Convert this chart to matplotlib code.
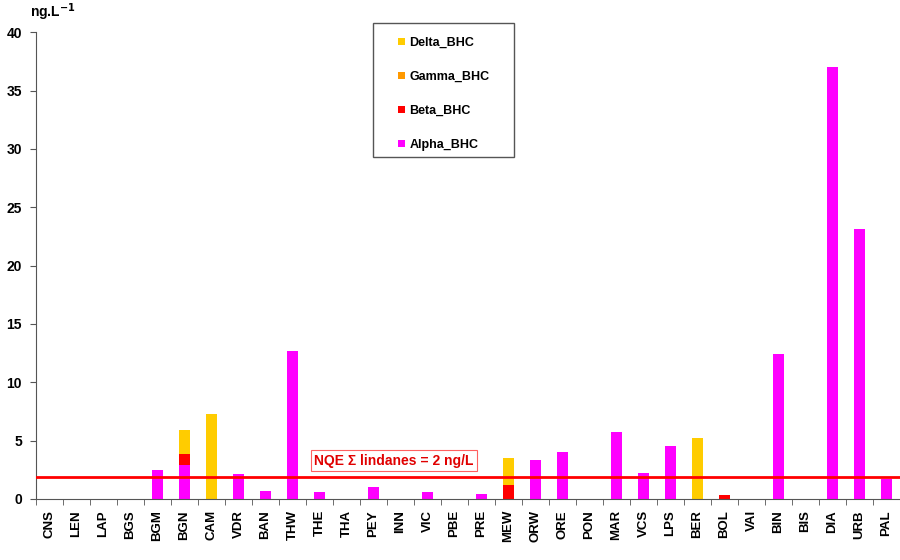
import numpy as np
import matplotlib
matplotlib.use("Agg")
import matplotlib.pyplot as plt
from matplotlib.patches import Rectangle

plt.rcParams['font.family'] = ['Liberation Sans', 'DejaVu Sans']

sites = ["CNS", "LEN", "LAP", "BGS", "BGM", "BGN", "CAM", "VDR", "BAN", "THW",
         "THE", "THA", "PEY", "INN", "VIC", "PBE", "PRE", "MEW", "ORW", "ORE",
         "PON", "MAR", "VCS", "LPS", "BER", "BOL", "VAI", "BIN", "BIS", "DIA",
         "URB", "PAL"]

alpha_bhc = [0, 0, 0, 0, 2.5, 2.9, 0, 2.1, 0.7, 12.7,
             0.6, 0, 1.0, 0, 0.6, 0, 0.4, 0, 3.3, 4.0,
             0, 5.7, 2.2, 4.5, 0, 0, 0, 12.4, 0, 37.0,
             23.1, 1.7]
beta_bhc = [0, 0, 0, 0, 0, 0.95, 0, 0, 0, 0,
            0, 0, 0, 0, 0, 0, 0, 1.2, 0, 0,
            0, 0, 0, 0, 0, 0.35, 0, 0, 0, 0,
            0, 0]
gamma_bhc = [0] * 32
delta_bhc = [0, 0, 0, 0, 0, 2.05, 7.3, 0, 0, 0,
             0, 0, 0, 0, 0, 0, 0, 2.3, 0, 0,
             0, 0, 0, 0, 5.2, 0, 0, 0, 0, 0,
             0, 0]

nqe_level = 1.9

colors = {"Alpha_BHC": "#FF00FF", "Beta_BHC": "#FF0000",
          "Gamma_BHC": "#FF9900", "Delta_BHC": "#FFCC00"}

fig = plt.figure(figsize=(9, 5.6), dpi=100)
ax = fig.add_axes([0.04, 0.109, 0.96, 0.8333])

x = np.arange(len(sites))
w = 0.4
a = np.array(alpha_bhc)
b = np.array(beta_bhc)
g = np.array(gamma_bhc)
d = np.array(delta_bhc)
h_a = ax.bar(x, a, w, color=colors["Alpha_BHC"], label="Alpha_BHC")
h_b = ax.bar(x, b, w, bottom=a, color=colors["Beta_BHC"], label="Beta_BHC")
h_g = ax.bar(x, g, w, bottom=a + b, color=colors["Gamma_BHC"], label="Gamma_BHC")
h_d = ax.bar(x, d, w, bottom=a + b + g, color=colors["Delta_BHC"], label="Delta_BHC")

ax.axhline(nqe_level, color="#FF0000", lw=2, zorder=3)
ax.text(12.76, 3.26, "NQE \u03a3 lindanes = 2 ng/L", color="#E00000",
        fontsize=10, fontweight="bold", ha="center", va="center",
        bbox=dict(boxstyle="square,pad=0.25", fc="white", ec="#FF6060", lw=0.8))

ax.set_xlim(-0.5, len(sites) - 0.5)
ax.set_ylim(0, 40)
ax.set_yticks(range(0, 41, 5))
ax.set_yticklabels([str(v) for v in range(0, 41, 5)], fontsize=10, fontweight="bold")
ax.set_xticks(x)
ax.set_xticklabels(sites, rotation=90, fontsize=9.5, fontweight="bold")
ax.set_xticks(np.arange(len(sites) + 1) - 0.5, minor=True)
ax.tick_params(axis="x", which="major", length=0, pad=8)
ax.tick_params(axis="x", which="minor", length=4, color="#555555", direction="out")
ax.tick_params(axis="y", length=4, color="#555555", direction="out", pad=6)

for s in ["top", "right"]:
    ax.spines[s].set_visible(False)
for s in ["left", "bottom"]:
    ax.spines[s].set_color("#555555")

fig.text(0.033, 0.978, "ng.L$^{\\mathbf{-1}}$", fontsize=10, fontweight="bold",
         ha="left", va="center")

# legend frame drawn separately (padding is wider than tall in the original)
fig.patches.append(Rectangle((0.4144, 0.7196), 0.1567, 0.2393,
                             transform=fig.transFigure, fill=False,
                             ec="#555555", lw=1.0))
leg = fig.legend(handles=[h_d, h_g, h_b, h_a], loc="upper left",
                 bbox_to_anchor=(0.4425, 0.934), frameon=False,
                 handlelength=0.5, handleheight=0.5, handletextpad=0.4,
                 labelspacing=1.75, borderpad=0, borderaxespad=0,
                 prop={"weight": "bold", "size": 9})

fig.savefig("out.png", dpi=100)
